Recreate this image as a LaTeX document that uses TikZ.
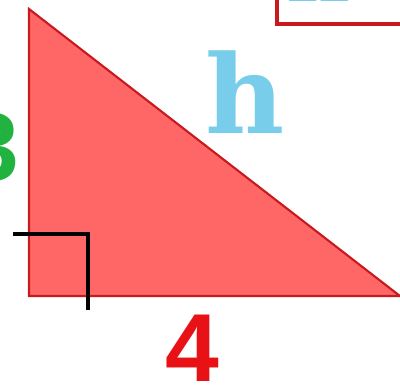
\documentclass[tikz,border=0pt]{standalone}
\usepackage{fontspec}
\setmainfont{Liberation Sans}
\newfontfamily\hfont{DejaVu Serif}
\usetikzlibrary{positioning}
\definecolor{trifill}{RGB}{255,102,102}
\definecolor{triedge}{RGB}{200,25,30}
\definecolor{legred}{RGB}{232,18,22}
\definecolor{leggreen}{RGB}{34,178,64}
\definecolor{hypcyan}{RGB}{120,205,235}
\tikzset{
  side/.style={draw=triedge, line width=1.2pt, fill=trifill, line join=miter},
  rmark/.style={draw=black, line width=2.2pt},
  lab/.style={inner sep=0pt, font=\bfseries}}

\begin{document}
\begin{tikzpicture}[x=0.02cm, y=-0.02cm]
\useasboundingbox (0,0) rectangle (400,387);
\coordinate (A) at (29,9);
\coordinate (B) at (29,296);
\coordinate (C) at (400,296);
\coordinate (m1) at (13,234);
\coordinate (m2) at (88,234);
\coordinate (m3) at (88,310);
\coordinate (b1) at (277,-10);
\coordinate (b2) at (277,24);
\coordinate (b3) at (410,24);
\draw [side] (A) -- (B) -- (C) -- cycle;
\draw [rmark] (m1) -- (m2) -- (m3);
\draw [draw=triedge, line width=2.2pt] (b1) -- (b2) -- (b3);
\begin{scope}
  \clip (280,0) rectangle (400,21);
  \node [text=hypcyan, font=\hfont\bfseries\fontsize{50}{50}\selectfont, anchor=base] (topt) at (318,1) {h};
\end{scope}
\node [lab, text=legred, font=\bfseries\fontsize{55}{55}\selectfont, anchor=base] (four) at (192,381) {4};
\node [lab, text=leggreen, font=\bfseries\fontsize{55}{55}\selectfont, anchor=base] (three) at (-8,180) {3};
\node [lab, text=hypcyan, font=\hfont\bfseries\fontsize{62}{62}\selectfont, anchor=base] (hyp) at (245,133) {h};
\end{tikzpicture}
\end{document}
